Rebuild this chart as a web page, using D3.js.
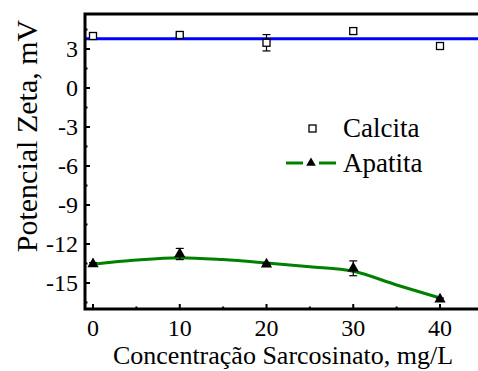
<!DOCTYPE html>
<html>
<head>
<meta charset="utf-8">
<script src="https://cdn.jsdelivr.net/npm/d3@7"></script>
<style>
  body { margin: 0; background: #fff; }
  svg text { font-family: 'Liberation Serif'; }
</style>
</head>
<body>
<svg id="chart"></svg>
<script>
// concentration values (mg/L)
var conc = [0, 10, 20, 30, 40];

// Calcita measurements
var calcita = [4.0, 4.08, 3.48, 4.38, 3.23];
var calcitaErr = [0.1, 0.1, 0.63, 0.25, 0.1];
var calcitaFit = 3.79;

// Apatita measurements
var apatita = [-13.54, -12.77, -13.56, -13.87, -16.25];
var apatitaErr = [0.1, 0.43, 0.1, 0.57, 0.1];

// fitted curve
var fitX = [0, 5, 10, 15, 20, 25, 30, 35, 40];
var fitY = [-13.56, -13.23, -13.05, -13.2, -13.46, -13.75, -14.1, -15.15, -16.15];

var xTicks = [0, 10, 20, 30, 40];
var xMinor = [5, 15, 25, 35];
var yTicks = [3, 0, -3, -6, -9, -12, -15];
var yMinor = [4.5, 1.5, -1.5, -4.5, -7.5, -10.5, -13.5, -16.5];

var screen = {width: 478, height: 371};
var frame = {left: 85, top: 14, right: 478, bottom: 309};

var svg = d3.select("#chart")
    .attr("width", screen.width)
    .attr("height", screen.height);

var xScale = d3.scaleLinear()
    .domain([0, 40])
    .range([93, 440]);
var yScale = d3.scaleLinear()
    .domain([3, -15])
    .range([49, 283]);

// text first, straight on the svg
var addText = function(str, x, y, size, anchor)
{
    return svg.append("text")
        .text(str)
        .attr("x", x)
        .attr("y", y)
        .attr("text-anchor", anchor)
        .style("font-family", "'Liberation Serif'")
        .style("font-size", size + "px");
};

xTicks.forEach(function(t){
    addText(t, xScale(t), 336, 24, "middle");
});
yTicks.forEach(function(t){
    addText(t, 78, yScale(t) + 8, 24, "end");
});
addText("Concentração Sarcosinato, mg/L", 283, 364, 26, "middle");
addText("Potencial Zeta, mV", 0, 0, 30, "middle")
    .attr("transform", "translate(37,136) rotate(-90)");
addText("Calcita", 343, 137, 27, "start");
addText("Apatita", 343, 172, 27, "start");

// fit lines
var fitLine = d3.line()
    .x(function(d){ return xScale(d[0]); })
    .y(function(d){ return yScale(d[1]); })
    .curve(d3.curveMonotoneX);

svg.append("path")
    .attr("d", fitLine([[xScale.invert(frame.left), calcitaFit], [xScale.invert(frame.right), calcitaFit]]))
    .attr("fill", "none")
    .attr("stroke", "#0000ff")
    .attr("stroke-width", 3);

svg.append("path")
    .attr("d", fitLine(d3.zip(fitX, fitY)))
    .attr("fill", "none")
    .attr("stroke", "#008000")
    .attr("stroke-width", 3);

// error bars
var drawErr = function(vals, errs)
{
    var g = svg.append("g")
        .attr("stroke", "#000")
        .attr("stroke-width", 1.2);
    conc.forEach(function(c, i){
        var x = xScale(c), y1 = yScale(vals[i] + errs[i]), y2 = yScale(vals[i] - errs[i]);
        g.append("line").attr("x1", x).attr("x2", x).attr("y1", y1).attr("y2", y2);
        g.append("line").attr("x1", x - 4).attr("x2", x + 4).attr("y1", y1).attr("y2", y1);
        g.append("line").attr("x1", x - 4).attr("x2", x + 4).attr("y1", y2).attr("y2", y2);
    });
};
drawErr(calcita, calcitaErr);
drawErr(apatita, apatitaErr);

// markers
svg.append("g")
    .selectAll("rect")
    .data(calcita)
    .enter()
    .append("rect")
    .attr("x", function(d, i){ return xScale(conc[i]) - 3.5; })
    .attr("y", function(d){ return yScale(d) - 3.5; })
    .attr("width", 7)
    .attr("height", 7)
    .attr("fill", "#fff")
    .attr("stroke", "#000")
    .attr("stroke-width", 1.3);

var tri = d3.symbol().type(d3.symbolTriangle).size(55);
svg.append("g")
    .selectAll("path")
    .data(apatita)
    .enter()
    .append("path")
    .attr("d", tri)
    .attr("transform", function(d, i){ return "translate(" + xScale(conc[i]) + "," + yScale(d) + ")"; })
    .attr("fill", "#000");

// frame
svg.append("path")
    .attr("d", "M" + frame.right + "," + frame.top + "H" + frame.left + "V" + frame.bottom + "H" + frame.right)
    .attr("stroke", "#000")
    .attr("stroke-width", 3)
    .attr("fill", "none");

// ticks (inward)
var tk = svg.append("g").attr("stroke", "#000").attr("stroke-width", 2);
xTicks.forEach(function(t){
    tk.append("line").attr("x1", xScale(t)).attr("x2", xScale(t))
        .attr("y1", frame.bottom).attr("y2", frame.bottom - 5);
});
xMinor.forEach(function(t){
    tk.append("line").attr("x1", xScale(t)).attr("x2", xScale(t))
        .attr("y1", frame.bottom).attr("y2", frame.bottom - 2.5);
});
yTicks.forEach(function(t){
    tk.append("line").attr("y1", yScale(t)).attr("y2", yScale(t))
        .attr("x1", frame.left).attr("x2", frame.left + 5);
});
yMinor.forEach(function(t){
    tk.append("line").attr("y1", yScale(t)).attr("y2", yScale(t))
        .attr("x1", frame.left).attr("x2", frame.left + 2.5);
});

// legend marks
svg.append("rect")
    .attr("x", 309).attr("y", 125).attr("width", 7).attr("height", 7)
    .attr("fill", "#fff").attr("stroke", "#000").attr("stroke-width", 1.3);
svg.append("line")
    .attr("x1", 286).attr("x2", 303).attr("y1", 163).attr("y2", 163)
    .attr("stroke", "#008000").attr("stroke-width", 3);
svg.append("line")
    .attr("x1", 319).attr("x2", 336).attr("y1", 163).attr("y2", 163)
    .attr("stroke", "#008000").attr("stroke-width", 3);
svg.append("path")
    .attr("d", d3.symbol().type(d3.symbolTriangle).size(40))
    .attr("transform", "translate(311,163)")
    .attr("fill", "#000");
</script>
</body>
</html>
